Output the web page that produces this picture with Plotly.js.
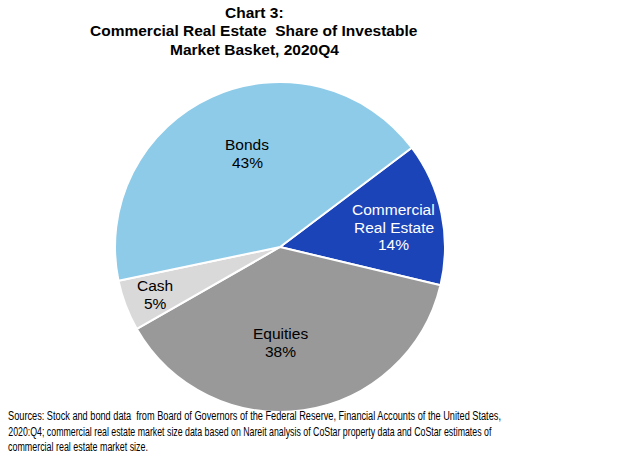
<!DOCTYPE html>
<html><head><meta charset="utf-8">
<script src="https://cdn.plot.ly/plotly-3.0.1.min.js"></script>
<style>html,body{margin:0;padding:0;background:#fff}#chart{width:624px;height:453px}</style>
</head><body><div id="chart"></div>
<script>
const categories = ["Commercial<br>Real Estate", "Equities", "Cash", "Bonds"];
const shares = [14, 38, 5, 43];
const colors = ["#1C44B9", "#999999", "#D9D9D9", "#8ECBE8"];
const textColors = ["#FFFFFF", "#000000", "#000000", "#000000"];
const titleLines = ["Chart 3:", "Commercial Real Estate  Share of Investable", "Market Basket, 2020Q4"];
const sourceLines = [
  "Sources: Stock and bond data  from Board of Governors of the Federal Reserve, Financial Accounts of the United States,",
  "2020:Q4; commercial real estate market size data based on Nareit analysis of CoStar property data and CoStar estimates of",
  "commercial real estate market size."
];
// label placement styling (fraction of radius, angular nudge in degrees)
const labelRadius = [0.70, 0.58, 0.81, 0.60];
const labelNudge = [2, 8, 0, 5];

const W = 624, H = 453;
const dom = {x: [0.1843, 0.7131], y: [0.0905, 0.819]};
const rotation = 53;
const FONT = "Liberation Sans, Arial, sans-serif";

const trace = {
  type: "pie",
  values: shares,
  labels: categories,
  sort: false,
  direction: "clockwise",
  rotation: rotation,
  marker: {colors: colors, line: {color: "#FFFFFF", width: 2}},
  textinfo: "none",
  hoverinfo: "none",
  showlegend: false,
  domain: dom
};

const cx = (dom.x[0] + dom.x[1]) / 2, cy = (dom.y[0] + dom.y[1]) / 2;
const rPx = Math.min((dom.x[1] - dom.x[0]) * W, (dom.y[1] - dom.y[0]) * H) / 2;
const total = shares.reduce((a, b) => a + b, 0);
const LH = 17.5;
let cum = 0;
const labelAnns = [];
shares.forEach((v, i) => {
  const mid = rotation + (cum + v / 2) / total * 360 + labelNudge[i];
  cum += v;
  const a = mid * Math.PI / 180;
  const d = rPx * labelRadius[i];
  const px = cx * W + Math.sin(a) * d, py = (1 - cy) * H - Math.cos(a) * d;
  const lines = categories[i].split("<br>").concat([v + "%"]);
  lines.forEach((ln, k) => {
    const yy = py + (k - (lines.length - 1) / 2) * LH;
    labelAnns.push({
      xref: "paper", yref: "paper", x: px / W, y: 1 - yy / H,
      xanchor: "center", yanchor: "middle", showarrow: false,
      text: ln, font: {family: FONT, size: 15.5, color: textColors[i]}
    });
  });
});

const titleAnns = titleLines.map((t, k) => ({
  xref: "paper", yref: "paper", x: 254 / W, y: 1 - (12 + k * 18.5) / H,
  xanchor: "center", yanchor: "middle", showarrow: false,
  text: "<b>" + t + "</b>", font: {family: FONT, size: 15.5, color: "#000"}
}));

const sourceAnns = sourceLines.map((t, k) => ({
  xref: "paper", yref: "paper", x: 7 / W, y: 1 - (416 + k * 15.5) / H,
  xanchor: "left", yanchor: "middle", showarrow: false, borderpad: 0,
  text: t, font: {family: FONT, size: 12.5, color: "#000"}
}));
// target widths of each source line in the reference (px), used to condense the face
const sourceWidths = [493, 484, 140];

const layout = {
  width: W, height: H,
  margin: {l: 0, r: 0, t: 0, b: 0},
  paper_bgcolor: "#FFFFFF",
  font: {family: FONT, color: "#000"},
  annotations: labelAnns.concat(titleAnns, sourceAnns)
};
Plotly.newPlot("chart", [trace], layout, {staticPlot: true}).then(gd => {
  const anns = gd.querySelectorAll(".annotation");
  const n = anns.length;
  for (let k = 0; k < sourceLines.length; k++) {
    const txt = anns[n - sourceLines.length + k].querySelector("text.annotation-text");
    if (!txt) continue;
    const bb = txt.getBBox();
    const x0 = bb.x;
    const s = sourceWidths[k] / bb.width;
    const prev = txt.getAttribute("transform") || "";
    txt.setAttribute("transform", prev + " translate(" + x0 + ",0) scale(" + s + ",1) translate(" + (-x0) + ",0)");
  }
});
</script></body></html>
